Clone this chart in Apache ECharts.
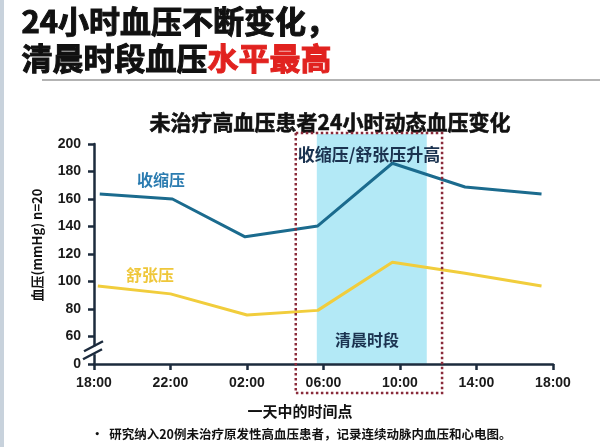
<!DOCTYPE html>
<html>
<head>
<meta charset="utf-8">
<script src="https://cdn.jsdelivr.net/npm/echarts@6/dist/echarts.min.js"></script>
<style>html,body{margin:0;padding:0;background:#fff;}#main{width:600px;height:447px;}</style>
</head>
<body>
<div id="main"></div>
<script>
// ---- data ----
var sysHours = [18.3, 22.1, 25.9, 29.7, 33.6, 37.4, 41.4];
var sysValues = [163.6, 160, 132.5, 140.4, 186, 168.7, 163.6];
var diaHours = [18.2, 22.0, 26.0, 29.7, 33.6, 37.4, 41.4];
var diaValues = [96.7, 91, 75.6, 79, 114, 106, 96.7];
var xTickHours = [18, 22, 26, 30, 34, 38, 42];
var yTicks = [0, 60, 80, 100, 120, 140, 160, 180, 200];
var morningBand = [29.65, 35.4];
var dottedBox = [28.55, 36.2];

var FONT = '"Noto Sans CJK SC", "Noto Sans", sans-serif';
var NUMFONT = '"Liberation Sans", Arial, sans-serif';
var navy = '#1c2b3d';
var chart = echarts.init(document.getElementById('main'));

function hh(v) { var h = ((v % 24) + 24) % 24; return (h < 10 ? '0' : '') + h + ':00'; }

chart.setOption({
  animation: false,
  backgroundColor: '#ffffff',
  grid: { left: 94, right: 47, top: 144, bottom: 83, containLabel: false },
  xAxis: {
    type: 'value', min: 18, max: 42, interval: 4,
    axisLine: { show: true, onZero: false, lineStyle: { color: navy, width: 2.5 } },
    axisTick: { show: true, length: 6, lineStyle: { color: navy, width: 2.5 } },
    axisLabel: { margin: 12, color: '#1a1a1a', fontSize: 14, fontWeight: 'bold', fontFamily: NUMFONT,
      formatter: function (v) { return hh(v); } },
    splitLine: { show: false }
  },
  yAxis: {
    type: 'value', min: 40, max: 200, interval: 20,
    axisLine: { show: true, lineStyle: { color: navy, width: 2.5 } },
    axisTick: { show: true, length: 6, lineStyle: { color: navy, width: 2.5 } },
    axisLabel: { margin: 13, color: '#1a1a1a', fontSize: 14, fontWeight: 'bold', fontFamily: NUMFONT,
      formatter: function (v) { return v === 40 ? String(yTicks[0]) : String(v); } },
    splitLine: { show: false }
  },
  series: [
    { name: '收缩压', type: 'line', data: sysHours.map(function (h, i) { return [h, sysValues[i]]; }),
      symbol: 'none', lineStyle: { color: '#1b6b8e', width: 3 }, z: 5 },
    { name: '舒张压', type: 'line', data: diaHours.map(function (h, i) { return [h, diaValues[i]]; }),
      symbol: 'none', lineStyle: { color: '#f1cd3c', width: 3 }, z: 5 }
  ]
});

function px(x, y) { return chart.convertToPixel({ gridIndex: 0 }, [x, y]); }
var topY = px(18, 200)[1] - 10;
var axisY = px(18, 40)[1];
var bL = px(morningBand[0], 40)[0], bR = px(morningBand[1], 40)[0];
var dL = px(dottedBox[0], 40)[0], dR = px(dottedBox[1], 40)[0];
var brk = px(18, 50);
var axX = px(18, 40)[0] - 1;
var H = 'bold 31px ' + FONT;

chart.setOption({
  graphic: [
    { type: 'rect', z: -10, shape: { x: 0, y: 0, width: 4, height: 447 }, style: { fill: '#c8d2dc' } },
    { type: 'text', left: 21, top: 5, style: { text: '24小时血压不断变化，', font: H, fill: '#111', stroke: '#111', lineWidth: 1 } },
    { type: 'text', left: 21, top: 42, style: { text: '清晨时段血压', font: H, fill: '#111', stroke: '#111', lineWidth: 1 } },
    { type: 'text', left: 207, top: 42, style: { text: '水平最高', font: H, fill: '#e1221f', stroke: '#e1221f', lineWidth: 1 } },
    { type: 'line', shape: { x1: 42, y1: 80, x2: 600, y2: 80 }, style: { stroke: '#9a9a9a', lineWidth: 1.5 } },
    { type: 'rect', z: -5, shape: { x: bL, y: topY, width: bR - bL, height: axisY - topY }, style: { fill: '#b3e9f6' } },
    { type: 'rect', z: 10, shape: { x: dL, y: topY - 1, width: dR - dL, height: 393 - topY + 1 },
      style: { fill: null, stroke: '#8a2b3b', lineWidth: 2.5, lineDash: [2.5, 2.5] } },
    { type: 'text', x: 330, y: 122, style: { text: '未治疗高血压患者24小时动态血压变化', font: 'bold 21px ' + FONT, fill: '#111', stroke: '#111', lineWidth: 0.6, align: 'center', verticalAlign: 'middle' } },
    { type: 'text', z: 20, x: 369, y: 155, style: { text: '收缩压/舒张压升高', font: 'bold 17px ' + FONT, fill: '#1b3350', align: 'center', verticalAlign: 'middle' } },
    { type: 'text', z: 20, x: 367, y: 340, style: { text: '清晨时段', font: 'bold 16px ' + FONT, fill: '#1b3350', align: 'center', verticalAlign: 'middle' } },
    { type: 'text', z: 20, x: 161, y: 180, style: { text: '收缩压', font: 'bold 16px ' + FONT, fill: '#2a7bb0', align: 'center', verticalAlign: 'middle' } },
    { type: 'text', z: 20, x: 150, y: 275, style: { text: '舒张压', font: 'bold 16px ' + FONT, fill: '#efc73a', align: 'center', verticalAlign: 'middle' } },
    { type: 'text', z: 20, x: 37, y: 245, rotation: Math.PI / 2, style: { text: '血压(mmHg) n=20', font: 'bold 13px ' + FONT, fill: '#111', align: 'center', verticalAlign: 'middle' } },
    { type: 'text', z: 20, x: 300, y: 411, style: { text: '一天中的时间点', font: 'bold 15px ' + FONT, fill: '#111', align: 'center', verticalAlign: 'middle' } },
    { type: 'text', z: 20, x: 91, y: 434, style: { text: '•  研究纳入20例未治疗原发性高血压患者，记录连续动脉内血压和心电图。', font: 'bold 12.5px ' + FONT, fill: '#111', align: 'left', verticalAlign: 'middle' } },
    // axis break marks
    { type: 'rect', z: 30, shape: { x: axX - 3, y: brk[1] - 4, width: 6, height: 8 }, style: { fill: '#fff' } },
    { type: 'line', z: 31, shape: { x1: axX - 9, y1: brk[1] + 1, x2: axX + 10, y2: brk[1] - 9 }, style: { stroke: navy, lineWidth: 2.5 } },
    { type: 'line', z: 31, shape: { x1: axX - 10, y1: brk[1] + 9, x2: axX + 9, y2: brk[1] - 1 }, style: { stroke: navy, lineWidth: 2.5 } }
  ]
});
</script>
</body>
</html>
